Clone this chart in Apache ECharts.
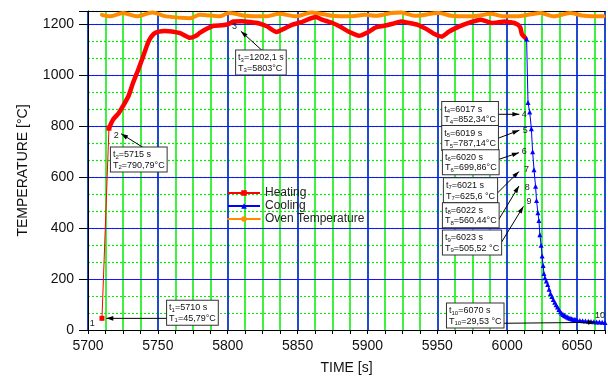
<!DOCTYPE html>
<html><head><meta charset="utf-8">
<script src="https://cdn.jsdelivr.net/npm/echarts@6/dist/echarts.min.js"></script>
<style>html,body{margin:0;padding:0;background:#fff}#c{width:608px;height:380px}</style>
</head><body><div id="c"></div>
<script>
// ---------- data ----------
const xTickLabels = [5700, 5750, 5800, 5850, 5900, 5950, 6000, 6050];
const yTickLabels = [0, 200, 400, 600, 800, 1000, 1200];

const heatRiseTime = [5710, 5715];
const heatRiseTemp = [45.79, 790.79];

const heatTime = [5715,5718,5722,5725,5729,5732,5736,5739,5742,5744,5747,5750,5755,5760,5766,5773,5777,5780,5785,5790,5796,5801,5804,5810,5816,5822,5828,5835,5840,5846,5852,5858,5863,5868,5875,5880,5887,5894,5900,5906,5912,5918,5924,5930,5936,5942,5948,5953,5958,5962,5968,5975,5981,5985,5989,5994,5998,6002,6005,6008,6009.5,6010.5,6013];
const heatTemp = [791,825,850,877,917,965,1021,1065,1112,1138,1160,1168,1172,1170,1163,1145,1152,1164,1180,1192,1194,1200,1209,1210,1207,1202,1190,1168,1180,1196,1205,1218,1226,1215,1203,1190,1168,1153,1166,1186,1192,1200,1209,1203,1196,1180,1160,1150,1168,1180,1195,1208,1216,1210,1203,1206,1209,1206,1203,1195,1183,1160,1144];

const coolTime = [6013.9,6014.9,6016.1,6017.3,6018.2,6019.2,6020.3,6021,6022,6022.7,6023.4,6024.3,6025,6025.7,6026.3,6027,6028,6029,6030,6031,6032,6033,6034,6035,6036,6037,6038,6039,6040,6041,6042,6043,6044,6045,6046,6047,6048,6049,6050,6052,6054,6056,6058,6060,6062,6064,6066,6068,6070];
const coolTemp = [1140,891,854,789,698,628,563,507,459,429,373,332,290,253,221,205,192,178,160,143,131,120,109,99,90,80,72,66,61,57,54,51,48,46,44,42,41,40,39,37,36,35,34,33,32,31.5,31,30,29.53];

const ovenTime = [5710,5716,5725,5735,5746,5756,5773,5780,5794,5801,5813,5827,5837,5849,5860,5875,5889,5898,5906,5917,5924,5934,5951,5960,5969,5979,5988,5998,6007,6016,6024,6033,6045,6055,6069];
const ovenTemp = [1235,1229,1242,1229,1244,1229,1222,1235,1229,1242,1231,1229,1239,1229,1244,1231,1229,1235,1231,1242,1244,1231,1242,1231,1229,1231,1239,1229,1229,1236,1242,1229,1242,1231,1229];

// annotation texts
const annotNum  = ['1','2','3','4','5','6','7','8','9','10'];
const annotTime = ['=5710 s','=5715 s','=1202,1 s','=6017 s','=6019 s','=6020 s','=6021 s','=6022 s','=6023 s','=6070 s'];
const annotTemp = ['=45,79°C','=790,79°C','=5803°C','=852,34°C','=787,14°C','=699,86°C','=625,6 °C','=560,44°C','=505,52 °C','=29,53 °C'];

// annotation layout (data coordinates): box top-left, arrow tail, arrow tip, number label
const annotLayout = [
  {box:[5756.6,114.7], tail:[5756.6,45.6], tip:[5713.1,45.6], num:[5703.1,26.1], numAlign:'center'},
  {box:[5716.4,715.3], tail:[5739.4,715.3], tip:[5723.7,769.1], num:[5720.2,763.3], numAlign:'center'},
  {box:[5806.0,1094.8], tail:[5824.7,1094.8], tip:[5809.4,1170.8], num:[5804.8,1188.4], numAlign:'center'},
  {box:[5953.5,893.1], tail:[5986,845.2], tip:[6008.7,845.2], num:[6012.3,845.2], numAlign:'center'},
  {box:[5953.5,799.5], tail:[5986,735.9], tip:[6008.7,782.7], num:[6013,782.7], numAlign:'center'},
  {box:[5954.0,704.8], tail:[5986,654], tip:[6008.4,695], num:[6012.3,698], numAlign:'center'},
  {box:[5954.7,594.4], tail:[5986.7,502], tip:[6008.4,620.9], num:[6013.9,628], numAlign:'center'},
  {box:[5954.0,496.9], tail:[5990.3,399.4], tip:[6008.4,564.4], num:[6014.4,559.3], numAlign:'center'},
  {box:[5954.0,390.0], tail:[5990.3,293.3], tip:[6011.6,484.4], num:[6015.6,504.7], numAlign:'center'},
  {box:[5956.9,104.1], tail:[5993.1,26.1], tip:[6062.8,30], num:[6062.9,58.5], numAlign:'left'}
];

// ---------- chart ----------
const zip = (a, b) => a.map((v, i) => [v, b[i]]);
const FONT = '"Liberation Sans", Arial, sans-serif';
const BLUE = '#1414ff', GREEN = '#00ee00';
const chart = echarts.init(document.getElementById('c'), null, {renderer: 'canvas'});

const option = {
  animation: false,
  backgroundColor: '#fff',
  grid: {left: 88, right: 0, top: 11, bottom: 48},
  legend: {
    orient: 'vertical', left: 227, top: 187, padding: 0, itemGap: 1,
    itemWidth: 32, itemHeight: 7, selectedMode: false,
    data: ['Heating', 'Cooling', 'Oven Temperature'],
    textStyle: {fontFamily: FONT, fontSize: 12, color: '#222', lineHeight: 11}
  },
  xAxis: [
    {type: 'value', min: 5700, max: 6070, interval: 50, position: 'bottom', z: 1,
     name: 'TIME [s]', nameLocation: 'middle', nameGap: 31,
     nameTextStyle: {fontFamily: FONT, fontSize: 14, color: '#111'},
     axisLine: {show: true, onZero: false, lineStyle: {color: '#000', width: 1}},
     axisTick: {show: true, length: 4, lineStyle: {color: '#000'}},
     axisLabel: {margin: 9, fontFamily: FONT, fontSize: 14, color: '#111',
       formatter: v => xTickLabels.includes(v) ? String(v) : ''},
     splitLine: {show: true, lineStyle: {color: BLUE, width: 1.5}}},
    {type: 'value', min: 5700, max: 6070, interval: 12.5, position: 'bottom', z: 0,
     axisLine: {show: false}, axisTick: {show: true, length: 4, lineStyle: {color: '#000'}},
     axisLabel: {show: false},
     splitLine: {show: true, lineStyle: {color: GREEN, width: 1.5}}},
    {type: 'value', min: 5700, max: 6070, position: 'top', z: 1,
     axisLine: {show: true, onZero: false, lineStyle: {color: '#000', width: 1}},
     axisTick: {show: false}, axisLabel: {show: false}, splitLine: {show: false}}
  ],
  yAxis: [
    {type: 'value', min: 0, max: 1250, interval: 200, position: 'left', z: 1,
     name: 'TEMPERATURE [°C]', nameLocation: 'middle', nameGap: 58, nameRotate: 90,
     nameTextStyle: {fontFamily: FONT, fontSize: 14, color: '#111'},
     axisLine: {show: true, onZero: false, lineStyle: {color: '#000', width: 1}},
     axisTick: {show: true, length: 9, lineStyle: {color: '#000'}},
     axisLabel: {margin: 14, fontFamily: FONT, fontSize: 14, color: '#111',
       formatter: v => yTickLabels.includes(v) ? String(v) : ''},
     splitLine: {show: true, lineStyle: {color: BLUE, width: 1.2}}},
    {type: 'value', min: 0, max: 1250, interval: 200 / 3, position: 'right', z: 0,
     axisLine: {show: false}, axisTick: {show: false}, axisLabel: {show: false},
     splitLine: {show: true, lineStyle: {color: GREEN, width: 1.2, type: [2, 2]}}}
  ],
  series: [
    {name: 'Heating', type: 'line', data: zip(heatRiseTime, heatRiseTemp),
     symbol: 'rect', symbolSize: 5, showSymbol: true, z: 3,
     itemStyle: {color: '#ff0000'}, lineStyle: {color: '#ff0000', width: 1}},
    {name: 'Heating', type: 'line', data: zip(heatTime, heatTemp),
     symbol: 'rect', showSymbol: false, smooth: 0.2, z: 4,
     itemStyle: {color: '#ff0000'}, lineStyle: {color: '#ff0000', width: 4.5, cap: 'round', join: 'round'}},
    {name: 'Cooling', type: 'line', data: zip(coolTime, coolTemp),
     symbol: 'triangle', symbolSize: 5, showSymbol: true, z: 5,
     itemStyle: {color: '#0000ff'}, lineStyle: {color: '#0000ff', width: 1}},
    {name: 'Oven Temperature', type: 'line', data: zip(ovenTime, ovenTemp),
     symbol: 'circle', showSymbol: false, smooth: 0.3, z: 3,
     itemStyle: {color: '#ff8c00'}, lineStyle: {color: '#ff8c00', width: 4, cap: 'round', join: 'round'}}
  ]
};
chart.setOption(option);

// ---------- annotations ----------
const P = p => chart.convertToPixel({seriesIndex: 2}, p);
const graphics = [];
annotLayout.forEach((a, i) => {
  const b = P(a.box), t = P(a.tail), h = P(a.tip), n = P(a.num);
  graphics.push({type: 'line', silent: true, z: 10,
    shape: {x1: t[0], y1: t[1], x2: h[0], y2: h[1]}, style: {stroke: '#000', lineWidth: 1}});
  const dx = h[0] - t[0], dy = h[1] - t[1], L = Math.hypot(dx, dy);
  const ux = dx / L, uy = dy / L, len = 7, w = 2.3;
  const bx = h[0] - ux * len, by = h[1] - uy * len;
  graphics.push({type: 'polygon', silent: true, z: 11,
    shape: {points: [[h[0], h[1]], [bx - uy * w, by + ux * w], [bx + uy * w, by - ux * w]]},
    style: {fill: '#000'}});
  graphics.push({type: 'text', silent: true, z: 20, x: b[0], y: b[1],
    style: {
      text: '{n|t}{s|' + annotNum[i] + '}{n|' + annotTime[i] + '}\n{n|T}{s|' + annotNum[i] + '}{n|' + annotTemp[i] + '}',
      rich: {
        n: {fontFamily: FONT, fontSize: 9, lineHeight: 10.5, fill: '#111'},
        s: {fontFamily: FONT, fontSize: 6, lineHeight: 6, verticalAlign: 'bottom', fill: '#111'}
      },
      align: 'left', verticalAlign: 'top',
      backgroundColor: '#fff', borderColor: '#333', borderWidth: 1, padding: [2, 2, 1, 2]
    }});
  graphics.push({type: 'text', silent: true, z: 20, x: n[0], y: n[1],
    style: {text: annotNum[i], fontFamily: FONT, fontSize: 9, fill: '#222',
      align: a.numAlign, verticalAlign: 'middle'}});
});
chart.setOption({graphic: graphics});
</script>
</body></html>
